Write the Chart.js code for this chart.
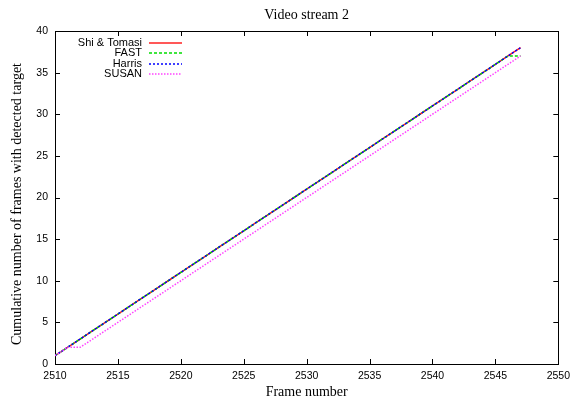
<!DOCTYPE html>
<html>
<head>
<meta charset="utf-8">
<title>Video stream 2</title>
<script src="https://cdn.jsdelivr.net/npm/chart.js@4.4.1/dist/chart.umd.min.js"></script>
<style>
  html, body { margin: 0; padding: 0; background: #ffffff; }
  #wrap { width: 576px; height: 400px; }
</style>
</head>
<body>
<div id="wrap"><canvas id="chart" width="576" height="400"></canvas></div>
<script>
// Frame numbers of the video stream
const frames = [2510, 2511, 2512, 2513, 2514, 2515, 2516, 2517, 2518, 2519,
                2520, 2521, 2522, 2523, 2524, 2525, 2526, 2527, 2528, 2529,
                2530, 2531, 2532, 2533, 2534, 2535, 2536, 2537, 2538, 2539,
                2540, 2541, 2542, 2543, 2544, 2545, 2546, 2547];

// Cumulative number of frames with the target detected, per detector
const shiTomasi = [1, 2, 3, 4, 5, 6, 7, 8, 9, 10,
                   11, 12, 13, 14, 15, 16, 17, 18, 19, 20,
                   21, 22, 23, 24, 25, 26, 27, 28, 29, 30,
                   31, 32, 33, 34, 35, 36, 37, 38];
const fast      = [1, 2, 3, 4, 5, 6, 7, 8, 9, 10,
                   11, 12, 13, 14, 15, 16, 17, 18, 19, 20,
                   21, 22, 23, 24, 25, 26, 27, 28, 29, 30,
                   31, 32, 33, 34, 35, 36, 37, 37];
const harris    = [1, 2, 3, 4, 5, 6, 7, 8, 9, 10,
                   11, 12, 13, 14, 15, 16, 17, 18, 19, 20,
                   21, 22, 23, 24, 25, 26, 27, 28, 29, 30,
                   31, 32, 33, 34, 35, 36, 37, 38];
const susan     = [1, 2, 2, 3, 4, 5, 6, 7, 8, 9,
                   10, 11, 12, 13, 14, 15, 16, 17, 18, 19,
                   20, 21, 22, 23, 24, 25, 26, 27, 28, 29,
                   30, 31, 32, 33, 34, 35, 36, 37];

const seriesNames = ['Shi & Tomasi', 'FAST', 'Harris', 'SUSAN'];

// Axis ranges and tick values
const xTicks = [2510, 2515, 2520, 2525, 2530, 2535, 2540, 2545, 2550];
const yTicks = [0, 5, 10, 15, 20, 25, 30, 35, 40];

const chartTitle = 'Video stream 2';
const xTitle = 'Frame number';
const yTitle = 'Cumulative number of frames with detected target';

const SANS = '"Liberation Sans", Arial, Helvetica, sans-serif';
const SERIF = '"Liberation Serif", "Times New Roman", Times, serif';

function pts(values) {
  return frames.map((f, i) => ({ x: f, y: values[i] }));
}

const styles = [
  { color: '#ff2020', dash: [] },
  { color: '#00dd00', dash: [3, 2] },
  { color: '#0000ff', dash: [2, 2] },
  { color: '#ff44ff', dash: [1.5, 1.5] }
];
const allSeries = [shiTomasi, fast, harris, susan];

const datasets = allSeries.map((vals, i) => ({
  label: seriesNames[i],
  data: pts(vals),
  borderColor: styles[i].color,
  borderDash: styles[i].dash,
  borderWidth: 1.5,
  pointRadius: 0,
  tension: 0,
  fill: false,
  order: allSeries.length - i
}));

// Frame, inward ticks on all four sides, titles and the key
const framePlugin = {
  id: 'frame',
  beforeDatasetsDraw(chart) {
    const { ctx, chartArea: a, scales: { x, y } } = chart;
    ctx.save();
    ctx.strokeStyle = '#000000';
    ctx.lineWidth = 1;
    ctx.beginPath();
    xTicks.forEach(v => {
      const px = Math.round(x.getPixelForValue(v)) + 0.5;
      ctx.moveTo(px, a.bottom); ctx.lineTo(px, a.bottom - 5);
      ctx.moveTo(px, a.top); ctx.lineTo(px, a.top + 5);
    });
    yTicks.forEach(v => {
      const py = Math.round(y.getPixelForValue(v)) + 0.5;
      ctx.moveTo(a.left, py); ctx.lineTo(a.left + 5, py);
      ctx.moveTo(a.right, py); ctx.lineTo(a.right - 5, py);
    });
    ctx.stroke();
    ctx.strokeRect(Math.round(a.left) + 0.5, Math.round(a.top) + 0.5,
                   Math.round(a.right - a.left), Math.round(a.bottom - a.top));
    ctx.restore();
  },
  afterDraw(chart) {
    const { ctx, chartArea: a } = chart;
    const cx = (a.left + a.right) / 2;
    ctx.save();
    ctx.fillStyle = '#000000';
    ctx.font = '14px ' + SERIF;
    ctx.textAlign = 'center';
    ctx.textBaseline = 'alphabetic';
    ctx.fillText(chartTitle, cx, 19);
    ctx.fillText(xTitle, cx, 396);
    ctx.save();
    ctx.translate(20.5, 204);
    ctx.rotate(-Math.PI / 2);
    ctx.fillText(yTitle, 0, 0);
    ctx.restore();

    // key, top-left inside the plot
    ctx.font = '11px ' + SANS;
    ctx.textAlign = 'right';
    ctx.textBaseline = 'middle';
    chart.data.datasets.forEach((ds, i) => {
      const ly = a.top + 11.5 + i * 10.5;
      ctx.fillStyle = '#000000';
      ctx.fillText(ds.label, a.left + 87, ly);
      ctx.strokeStyle = ds.borderColor;
      ctx.lineWidth = 1.5;
      ctx.setLineDash(ds.borderDash);
      ctx.beginPath();
      ctx.moveTo(a.left + 94, Math.round(ly));
      ctx.lineTo(a.left + 127, Math.round(ly));
      ctx.stroke();
      ctx.setLineDash([]);
    });
    ctx.restore();
  }
};

new Chart(document.getElementById('chart'), {
  type: 'line',
  data: { datasets },
  options: {
    responsive: false,
    animation: false,
    layout: { padding: { top: 31, right: 14, left: 0, bottom: 0 } },
    plugins: {
      legend: { display: false },
      title: { display: false },
      tooltip: { enabled: false }
    },
    scales: {
      x: {
        type: 'linear',
        min: xTicks[0],
        max: xTicks[xTicks.length - 1],
        afterFit(scale) { scale.height = 36; },
        afterBuildTicks(scale) { scale.ticks = xTicks.map(v => ({ value: v })); },
        grid: { display: false, drawTicks: false, tickLength: 0 },
        border: { display: false },
        ticks: {
          autoSkip: false,
          maxRotation: 0,
          padding: 6,
          color: '#000000',
          font: { family: SANS, size: 10.5 },
          callback: v => String(v)
        }
      },
      y: {
        type: 'linear',
        min: yTicks[0],
        max: yTicks[yTicks.length - 1],
        afterFit(scale) { scale.width = 55; },
        afterBuildTicks(scale) { scale.ticks = yTicks.map(v => ({ value: v })); },
        grid: { display: false, drawTicks: false, tickLength: 0 },
        border: { display: false },
        ticks: {
          autoSkip: false,
          padding: 7,
          color: '#000000',
          font: { family: SANS, size: 10.5 },
          callback: v => String(v)
        }
      }
    }
  },
  plugins: [framePlugin]
});
</script>
</body>
</html>
